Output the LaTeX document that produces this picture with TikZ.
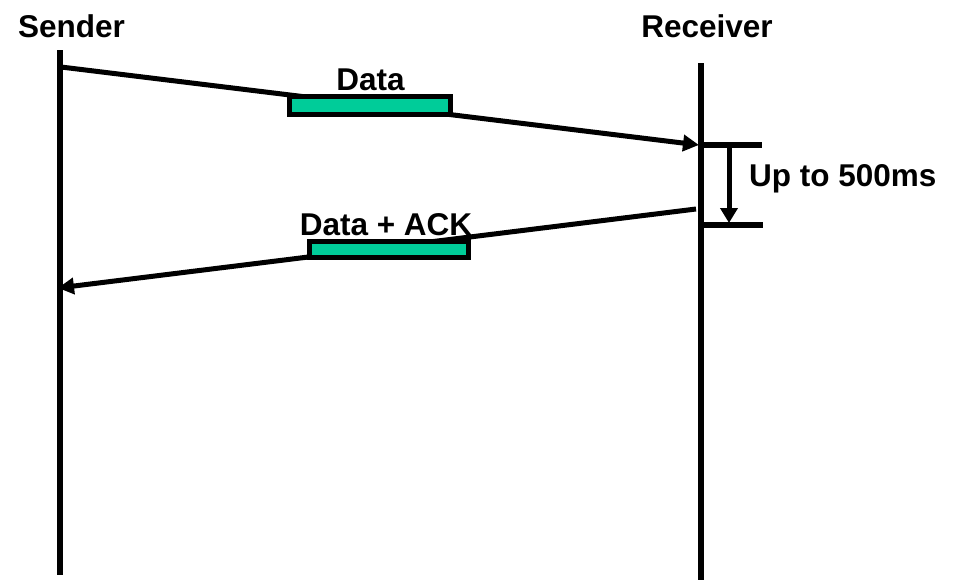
\documentclass[tikz,border=0pt]{standalone}
\usepackage{fontspec}
\setmainfont{Liberation Sans}
\usetikzlibrary{arrows.meta}
\definecolor{pktgreen}{RGB}{0,204,153}
\begin{document}
\begin{tikzpicture}[x=1pt,y=-1pt,
  lifeline/.style={line width=5.5pt},
  msg/.style={line width=5pt,-{Triangle[length=16pt,width=16pt]}},
  pkt/.style={draw,line width=5pt,fill=pktgreen,inner sep=0pt},
  lbl/.style={font=\fontsize{31.5}{36}\selectfont\bfseries,inner sep=0pt,anchor=base}]
\useasboundingbox (0,0) rectangle (959,582);

% lifelines
\coordinate (sTop) at (60,50);
\coordinate (sBot) at (60,575);
\coordinate (rTop) at (701,63);
\coordinate (rBot) at (701,580);
\draw[lifeline] (sTop) -- (sBot);
\draw[lifeline] (rTop) -- (rBot);

\node[lbl] (sender) at (71.5,37) {Sender};
\node[lbl] (receiver) at (707,37) {Receiver};

% data segment
\coordinate (d0) at (61,67);
\coordinate (d1) at (699,145);
\draw[msg] (d0) -- (d1);
\node[pkt,minimum width=161pt,minimum height=18pt] (dbox) at (369.5,105) {};
\node[lbl] (dlbl) at (370.5,90) {Data};

% delayed acknowledgement window
\coordinate (t0) at (701,145);
\coordinate (t0e) at (762,145);
\coordinate (t1) at (701,225);
\coordinate (t1e) at (763,225);
\draw[lifeline] (t0) -- (t0e);
\draw[lifeline] (t1) -- (t1e);
\coordinate (w0) at (729,145);
\coordinate (w1) at (729,223);
\draw[line width=5pt,-{Triangle[length=15pt,width=17pt]}] (w0) -- (w1);
\node[lbl,anchor=base west] (delay) at (749,186) {Up to 500ms};

% data + ack segment
\coordinate (a0) at (696,209);
\coordinate (a1) at (58,288);
\draw[msg] (a0) -- (a1);
\node[pkt,minimum width=159pt,minimum height=16pt] (abox) at (388.5,249.5) {};
\node[lbl] (albl) at (386,235) {Data + ACK};
\end{tikzpicture}
\end{document}
